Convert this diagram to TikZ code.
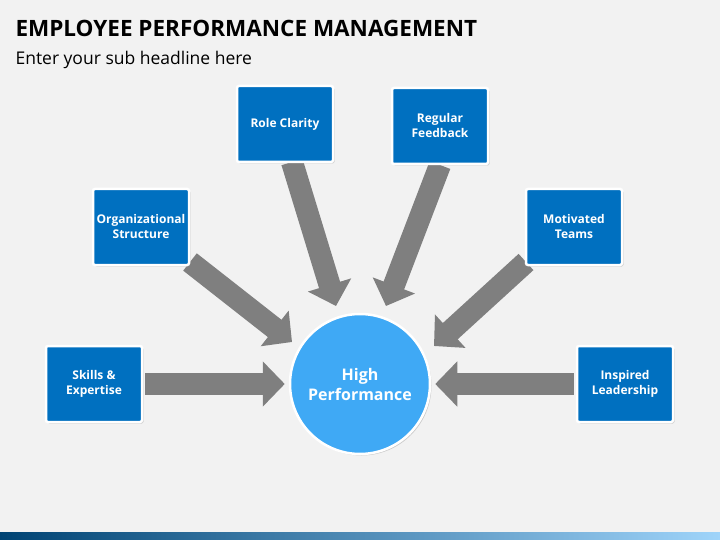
\documentclass[tikz,border=0pt]{standalone}
\usepackage{fontspec}
\setmainfont{Open Sans}
\usetikzlibrary{arrows.meta,shadows}
\pgfdeclarelayer{bg}
\pgfsetlayers{bg,main}
\definecolor{boxblue}{HTML}{0070C0}
\definecolor{circblue}{HTML}{3FA9F5}
\definecolor{bggray}{HTML}{F2F2F2}
\definecolor{arrgray}{HTML}{7F7F7F}
\begin{document}
\begin{tikzpicture}[x=1pt,y=-1pt,
  box/.style={draw=white,line width=2.5pt,fill=boxblue,minimum width=96pt,minimum height=76pt,
    text=white,font=\bfseries\fontsize{12}{15}\selectfont,align=center,rounded corners=2pt,
    drop shadow={shadow xshift=1.5pt,shadow yshift=-1.5pt,opacity=0.35}},
  bigarrow/.style={draw=arrgray,line width=22pt,-{Triangle[width=44pt,length=22pt]},shorten >=4pt,shorten <=2pt}]
\node[anchor=west,font=\bfseries\fontsize{22.5}{26}\selectfont] (title) at (12,28) {EMPLOYEE PERFORMANCE MANAGEMENT};
\node[anchor=west,font=\fontsize{17.5}{20}\selectfont] (sub) at (12,60) {Enter your sub headline here};
\node[circle,fill=circblue,draw=white,line width=2.5pt,minimum size=140pt,text=white,
  font=\bfseries\fontsize{16}{20}\selectfont,align=center,
  drop shadow={shadow xshift=1.5pt,shadow yshift=-1.5pt,opacity=0.35}] (c) at (360,384) {High\\Performance};
\node[box] (s) at (94,384) {Skills \&\\Expertise};
\node[box] (o) at (141,227) {Organizational\\Structure};
\node[box] (r) at (285,124) {Role Clarity};
\node[box] (f) at (440,126) {Regular\\Feedback};
\node[box] (m) at (574,227) {Motivated\\Teams};
\node[box] (l) at (625,384) {Inspired\\Leadership};
\coordinate (ro) at (292,162);
\coordinate (rt) at (336,306);
\coordinate (fo) at (440,165);
\coordinate (ft) at (386,306);
\coordinate (oo) at (190,262);
\coordinate (ot) at (292,342);
\coordinate (mo) at (526,262);
\coordinate (mt) at (434,346);
\begin{pgfonlayer}{bg}
\fill[bggray] (0,0) rectangle (720,540);
\shade[left color=boxblue!60!black,right color=circblue!50] (0,532) rectangle (720,540);
\draw[bigarrow] (s) -- (c);
\draw[bigarrow] (l) -- (c);
\draw[bigarrow,shorten >=0pt,shorten <=0pt] (oo) -- (ot);
\draw[bigarrow,shorten >=0pt,shorten <=0pt] (ro) -- (rt);
\draw[bigarrow,shorten >=0pt,shorten <=0pt] (fo) -- (ft);
\draw[bigarrow,shorten >=0pt,shorten <=0pt] (mo) -- (mt);
\end{pgfonlayer}
\end{tikzpicture}
\end{document}
